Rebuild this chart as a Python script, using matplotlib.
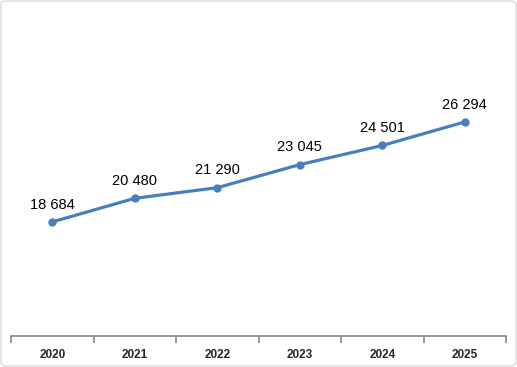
import matplotlib.pyplot as plt
from matplotlib.patches import FancyBboxPatch

years = ['2020', '2021', '2022', '2023', '2024', '2025']
values = [18684, 20480, 21290, 23045, 24501, 26294]
labels = ['18 684', '20 480', '21 290', '23 045', '24 501', '26 294']

fig = plt.figure(figsize=(5.17, 3.67), dpi=100)
ax = fig.add_axes([11/517, 1 - 336/367, 495/517, (336 - 20.7)/367])

x = list(range(len(years)))
ax.plot(x, values, color='#4a7ebb', lw=2.3, marker='o', ms=5, zorder=3)
for xi, v, lab in zip(x, values, labels):
    ax.annotate(lab, (xi, v), xytext=(0, 12.5), textcoords='offset points',
                ha='center', va='center', fontsize=10.5, family='Liberation Sans')

ax.set_xlim(-0.5, 5.5)
ax.set_ylim(10000, 34000)
ax.set_yticks([])
for s in ['top', 'right', 'left']:
    ax.spines[s].set_visible(False)
ax.spines['bottom'].set_color('#868686')
ax.spines['bottom'].set_linewidth(1.2)

ax.set_xticks(x)
ax.set_xticklabels(years, fontsize=8.5, fontweight='bold', family='Liberation Sans', color='#262626')
ax.tick_params(axis='x', which='major', length=0, pad=9)
ax.set_xticks([i - 0.5 for i in range(len(years) + 1)], minor=True)
ax.tick_params(axis='x', which='minor', length=5, color='#868686', width=1.2, direction='out')

border = FancyBboxPatch((0.002, 0.003), 0.996, 0.994, boxstyle='round,pad=0,rounding_size=0.01',
                        transform=fig.transFigure, fill=False, edgecolor='#d9d9d9', lw=1)
fig.patches.append(border)

fig.savefig('out.png', dpi=100)
